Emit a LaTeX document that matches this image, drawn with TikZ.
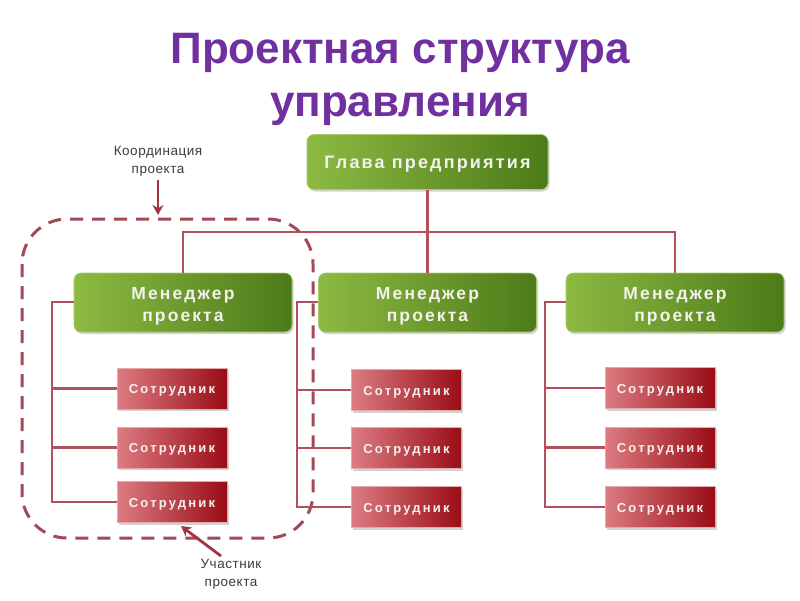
\documentclass[tikz,border=0pt]{standalone}
\usepackage{fontspec}
\setmainfont{Liberation Sans}
\newfontfamily\headfont[LetterSpace=12]{Liberation Sans}
\newfontfamily\boxfont[LetterSpace=12]{Liberation Sans}
\newfontfamily\empfont[LetterSpace=17]{Liberation Sans}
\newfontfamily\notefont[LetterSpace=4]{Liberation Sans}
\usetikzlibrary{shadows,arrows.meta}
\definecolor{titlepurple}{HTML}{7030A0}
\definecolor{gLight}{HTML}{8DBA42}
\definecolor{gDark}{HTML}{4C7A18}
\definecolor{gBorder}{HTML}{A8CC70}
\definecolor{rLight}{HTML}{DC7C82}
\definecolor{rDark}{HTML}{9A0C16}
\definecolor{rBorder}{HTML}{E4A8A8}
\definecolor{lineRed}{HTML}{B4505C}
\definecolor{dashRed}{HTML}{A24A56}
\definecolor{arrowRed}{HTML}{A23442}
\definecolor{boxText}{HTML}{F4F2EE}
\definecolor{noteText}{HTML}{3C3C3C}
\newcommand{\lowered}[2]{\raisebox{-#1}[\height][\depth]{#2}}
\newcommand{\mgrtext}{\lowered{4pt}{\begin{tabular}{@{}c@{}}Менеджер\\[0pt]проекта\end{tabular}}}
\newcommand{\emptext}{\lowered{2pt}{Сотрудник}}
\begin{document}
\begin{tikzpicture}[x=1pt,y=-1pt,
  greenbox/.style={rounded corners=7pt, draw=gBorder, line width=0.6pt,
    left color=gLight, right color=gDark, text=boxText,
    drop shadow={opacity=0.35, shadow xshift=1.5pt, shadow yshift=-2pt},
    align=center, inner sep=0pt},
  mgrbox/.style={greenbox, minimum width=218pt, minimum height=59pt,
    font=\boxfont\bfseries\fontsize{17.5}{22}\selectfont},
  headbox/.style={greenbox, minimum width=241pt, minimum height=55pt,
    font=\headfont\bfseries\fontsize{18}{20}\selectfont},
  empbox/.style={draw=rBorder, line width=0.6pt, left color=rLight, right color=rDark,
    text=boxText, minimum width=110pt, minimum height=41pt, inner sep=0pt,
    drop shadow={opacity=0.35, shadow xshift=1.5pt, shadow yshift=-2pt},
    font=\empfont\bfseries\fontsize{13}{15}\selectfont},
  conn/.style={draw=lineRed, line width=2.8pt},
  note/.style={text=noteText, font=\notefont\fontsize{13.5}{18}\selectfont, align=center},
  notearrow/.style={draw=arrowRed, line width=2.8pt, -{Stealth[length=10pt,width=11pt]}}
]
\useasboundingbox[fill=white] (0,0) rectangle (800,600);

% title
\node[text=titlepurple, font=\bfseries\fontsize{44}{53}\selectfont, align=center]
  (title) at (400,79) {Проектная структура\\управления};

% dashed grouping
\draw[dashRed, line width=3pt, dash pattern=on 13pt off 9pt, rounded corners=45pt]
  (22,219) rectangle (313,538);

% nodes
\node[headbox] (head) at (427.5,162) {\lowered{2.5pt}{Глава предприятия}};
\node[mgrbox] (m1) at (183,302.5) {\mgrtext};
\node[mgrbox] (m2) at (427.5,302.5) {\mgrtext};
\node[mgrbox] (m3) at (675,302.5) {\mgrtext};

\node[empbox] (e11) at (172,388.5) {\emptext};
\node[empbox] (e12) at (172,447.5) {\emptext};
\node[empbox] (e13) at (172,502) {\emptext};
\node[empbox] (e21) at (406.5,390) {\emptext};
\node[empbox] (e22) at (406.5,448) {\emptext};
\node[empbox] (e23) at (406.5,507) {\emptext};
\node[empbox] (e31) at (660,388) {\emptext};
\node[empbox] (e32) at (660,447.5) {\emptext};
\node[empbox] (e33) at (660,507) {\emptext};

% connectors
\coordinate (bus) at (427.5,232);
\coordinate (b1) at (52,302);
\coordinate (b2) at (297,302);
\coordinate (b3) at (545,302);
\draw[conn] (head.south) -- (bus);
\draw[conn] (m1.north) -- (m1.north |- bus) -- (m3.north |- bus) -- (m3.north);
\draw[conn] (bus) -- (m2.north);
\draw[conn] (m1.west |- b1) -- (b1) |- (e13.west);
\draw[conn] (b1) |- (e11.west);
\draw[conn] (b1) |- (e12.west);
\draw[conn] (m2.west |- b2) -- (b2) |- (e23.west);
\draw[conn] (b2) |- (e21.west);
\draw[conn] (b2) |- (e22.west);
\draw[conn] (m3.west |- b3) -- (b3) |- (e33.west);
\draw[conn] (b3) |- (e31.west);
\draw[conn] (b3) |- (e32.west);

% notes
\node[note] (koord) at (158,161) {Координация\\проекта};
\coordinate (ktip) at (158,215);
\draw[notearrow] (koord) -- (ktip);
\node[note] (uch) at (231,574) {Участник\\проекта};
\coordinate (ustart) at (221,556);
\coordinate (utip) at (181,526);
\draw[notearrow] (ustart) -- (utip);
\end{tikzpicture}
\end{document}
